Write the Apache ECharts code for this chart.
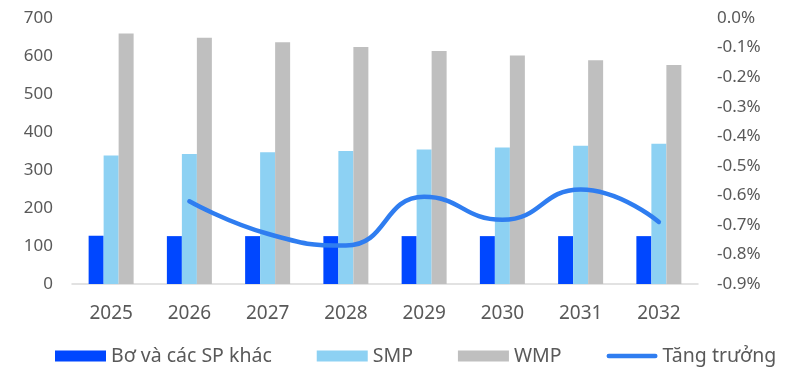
<!DOCTYPE html>
<html><head><meta charset="utf-8">
<script src="https://cdn.jsdelivr.net/npm/echarts@6/dist/echarts.min.js"></script>
<style>html,body{margin:0;padding:0;background:#fff}#c{width:789px;height:370px}</style>
</head><body><div id="c"></div>
<script>
const categories = ['2025','2026','2027','2028','2029','2030','2031','2032'];
const butterOther = [127, 126, 126, 126, 126, 126, 126, 126];
const smp = [338, 342, 347, 350, 354, 359, 364, 369];
const wmp = [659, 648, 636, 624, 613, 601, 589, 576];
const growth = [null, -0.62, -0.73, -0.77, -0.605, -0.683, -0.58, -0.69];
const seriesNames = ['Bơ và các SP khác', 'SMP', 'WMP', 'Tăng trưởng'];

const FONT = 'Noto Sans';
const TXT = '#595959';
const LINE_ICON = 'path://M2.5,0 H53.5 A2.5,2.5 0 0 1 53.5,5 H2.5 A2.5,2.5 0 0 1 2.5,0 Z';
const chart = echarts.init(document.getElementById('c'), null, {renderer: 'canvas'});
chart.setOption({
  animation: false,
  textStyle: {fontFamily: FONT},
  grid: {left: 72, right: 91, top: 18, bottom: 86},
  legend: {
    left: 50, top: 341, itemWidth: 51, itemHeight: 11, itemGap: 45,
    textStyle: {fontFamily: FONT, fontSize: 19.5, color: TXT},
    data: [
      {name: seriesNames[0], icon: 'rect'},
      {name: seriesNames[1], icon: 'rect'},
      {name: seriesNames[2], icon: 'rect'},
      {name: seriesNames[3], icon: LINE_ICON}
    ]
  },
  xAxis: {
    type: 'category', data: categories,
    axisLine: {lineStyle: {color: '#d9d9d9', width: 1.5}},
    axisTick: {show: false},
    axisLabel: {color: TXT, fontSize: 19, fontFamily: FONT, margin: 20}
  },
  yAxis: [
    {type: 'value', min: 0, max: 700, interval: 100,
     splitLine: {show: false}, axisLine: {show: false}, axisTick: {show: false},
     axisLabel: {color: TXT, fontSize: 17, fontFamily: FONT, margin: 19}},
    {type: 'value', min: -0.9, max: 0, interval: 0.1,
     splitLine: {show: false}, axisLine: {show: false}, axisTick: {show: false},
     axisLabel: {color: TXT, fontSize: 17, fontFamily: FONT, margin: 19,
       formatter: v => v.toFixed(1) + '%'}}
  ],
  series: [
    {name: seriesNames[0], type: 'bar', data: butterOther, barWidth: 15, barGap: '0%',
     itemStyle: {color: '#0047FF'}},
    {name: seriesNames[1], type: 'bar', data: smp, barWidth: 15, barGap: '0%',
     itemStyle: {color: '#8DD1F3'}},
    {name: seriesNames[2], type: 'bar', data: wmp, barWidth: 15, barGap: '0%',
     itemStyle: {color: '#BFBFBF'}},
    {name: seriesNames[3], type: 'line', yAxisIndex: 1, data: growth, smooth: 0.5,
     symbol: 'none', lineStyle: {color: '#2F7DF0', width: 4.5, cap: 'round'},
     itemStyle: {color: '#2F7DF0'}}
  ]
});
</script></body></html>
